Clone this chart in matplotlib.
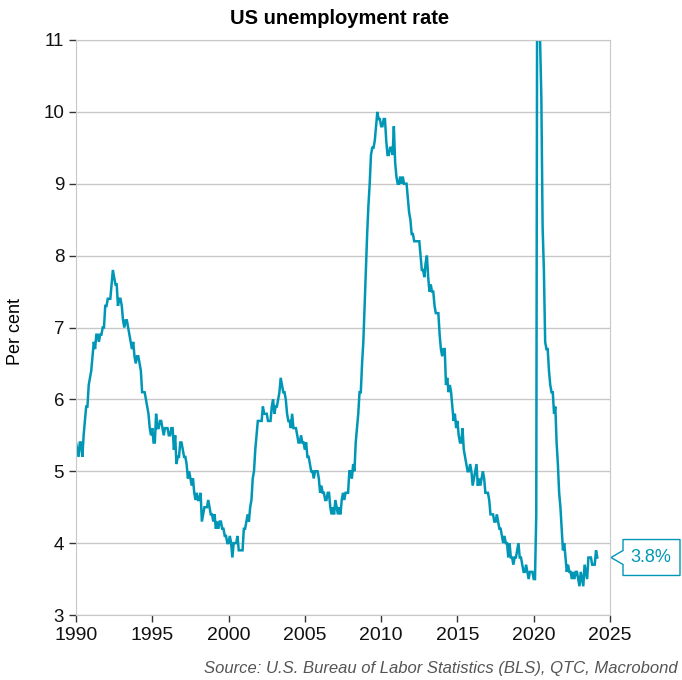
import numpy as np
import matplotlib
matplotlib.use("Agg")
import matplotlib.pyplot as plt
from matplotlib.patches import Polygon

plt.rcParams['font.family'] = ['Liberation Sans', 'DejaVu Sans']

# monthly unemployment rate, per cent, Jan 1990 onwards (one row per year)
rate_rows = [
    [5.4, 5.3, 5.2, 5.4, 5.4, 5.2, 5.5, 5.7, 5.9, 5.9, 6.2, 6.3],  # 1990
    [6.4, 6.6, 6.8, 6.7, 6.9, 6.9, 6.8, 6.9, 6.9, 7.0, 7.0, 7.3],
    [7.3, 7.4, 7.4, 7.4, 7.6, 7.8, 7.7, 7.6, 7.6, 7.3, 7.4, 7.4],
    [7.3, 7.1, 7.0, 7.1, 7.1, 7.0, 6.9, 6.8, 6.7, 6.8, 6.6, 6.5],
    [6.6, 6.6, 6.5, 6.4, 6.1, 6.1, 6.1, 6.0, 5.9, 5.8, 5.6, 5.5],
    [5.6, 5.4, 5.4, 5.8, 5.6, 5.6, 5.7, 5.7, 5.6, 5.5, 5.6, 5.6],  # 1995
    [5.6, 5.5, 5.5, 5.6, 5.6, 5.3, 5.5, 5.1, 5.2, 5.2, 5.4, 5.4],
    [5.3, 5.2, 5.2, 5.1, 4.9, 5.0, 4.9, 4.8, 4.9, 4.7, 4.6, 4.7],
    [4.6, 4.6, 4.7, 4.3, 4.4, 4.5, 4.5, 4.5, 4.6, 4.5, 4.4, 4.4],
    [4.3, 4.4, 4.2, 4.3, 4.2, 4.3, 4.3, 4.2, 4.2, 4.1, 4.1, 4.0],
    [4.0, 4.1, 4.0, 3.8, 4.0, 4.0, 4.0, 4.1, 3.9, 3.9, 3.9, 3.9],  # 2000
    [4.2, 4.2, 4.3, 4.4, 4.3, 4.5, 4.6, 4.9, 5.0, 5.3, 5.5, 5.7],
    [5.7, 5.7, 5.7, 5.9, 5.8, 5.8, 5.8, 5.7, 5.7, 5.7, 5.9, 6.0],
    [5.8, 5.9, 5.9, 6.0, 6.1, 6.3, 6.2, 6.1, 6.1, 6.0, 5.8, 5.7],
    [5.7, 5.6, 5.8, 5.6, 5.6, 5.6, 5.5, 5.4, 5.4, 5.5, 5.4, 5.4],
    [5.3, 5.4, 5.2, 5.2, 5.1, 5.0, 5.0, 4.9, 5.0, 5.0, 5.0, 4.9],  # 2005
    [4.7, 4.8, 4.7, 4.7, 4.6, 4.6, 4.7, 4.7, 4.5, 4.4, 4.5, 4.4],
    [4.6, 4.5, 4.4, 4.5, 4.4, 4.6, 4.7, 4.6, 4.7, 4.7, 4.7, 5.0],
    [5.0, 4.9, 5.1, 5.0, 5.4, 5.6, 5.8, 6.1, 6.1, 6.5, 6.8, 7.3],
    [7.8, 8.3, 8.7, 9.0, 9.4, 9.5, 9.5, 9.6, 9.8, 10.0, 9.9, 9.9],
    [9.8, 9.8, 9.9, 9.9, 9.6, 9.4, 9.4, 9.5, 9.5, 9.4, 9.8, 9.3],  # 2010
    [9.1, 9.0, 9.0, 9.1, 9.0, 9.1, 9.0, 9.0, 9.0, 8.8, 8.6, 8.5],
    [8.3, 8.3, 8.2, 8.2, 8.2, 8.2, 8.2, 8.0, 7.8, 7.8, 7.7, 7.9],
    [8.0, 7.7, 7.5, 7.6, 7.5, 7.5, 7.3, 7.2, 7.2, 7.2, 6.9, 6.7],
    [6.6, 6.7, 6.7, 6.2, 6.3, 6.1, 6.2, 6.1, 5.9, 5.7, 5.8, 5.6],
    [5.7, 5.5, 5.4, 5.4, 5.6, 5.3, 5.2, 5.1, 5.0, 5.0, 5.1, 5.0],  # 2015
    [4.8, 4.9, 5.0, 5.1, 4.8, 4.9, 4.8, 4.9, 5.0, 4.9, 4.7, 4.7],
    [4.7, 4.6, 4.4, 4.4, 4.4, 4.3, 4.3, 4.4, 4.3, 4.2, 4.2, 4.1],
    [4.0, 4.1, 4.0, 4.0, 3.8, 4.0, 3.8, 3.8, 3.7, 3.8, 3.8, 3.9],
    [4.0, 3.8, 3.8, 3.7, 3.6, 3.6, 3.7, 3.6, 3.5, 3.6, 3.6, 3.6],
    [3.5, 3.5, 4.4, 14.8, 13.2, 11.0, 10.2, 8.4, 7.8, 6.8, 6.7, 6.7],  # 2020
    [6.4, 6.2, 6.1, 6.1, 5.8, 5.9, 5.4, 5.1, 4.7, 4.5, 4.2, 3.9],
    [4.0, 3.8, 3.6, 3.7, 3.6, 3.6, 3.5, 3.6, 3.5, 3.6, 3.6, 3.5],
    [3.4, 3.6, 3.5, 3.4, 3.7, 3.6, 3.5, 3.8, 3.8, 3.8, 3.7, 3.7],
    [3.7, 3.9, 3.8],  # 2024
]
start_year = 1990
latest_label = "3.8%"

rate = np.concatenate([np.array(r) for r in rate_rows])
dates = start_year + np.arange(len(rate)) / 12.0

teal = '#0097b7'
grid_col = '#c8c8c8'

fig = plt.figure(figsize=(6.82, 6.80), dpi=100)
ax = fig.add_axes([76 / 682, 1 - 615 / 680, 534 / 682, 575 / 680])

ax.plot(dates, rate, color=teal, lw=1.8, solid_joinstyle='miter')

ax.set_xlim(1990, 2025)
ax.set_ylim(3, 11)
ax.set_xticks(np.arange(1990, 2026, 5))
ax.set_yticks(np.arange(3, 12, 1))
ax.yaxis.grid(True, color=grid_col, lw=1)
ax.set_axisbelow(True)
for s in ['left', 'right', 'top', 'bottom']:
    ax.spines[s].set_color(grid_col)
ax.tick_params(axis='both', direction='out', length=5, color='#333333',
               labelcolor='#111111', width=1)
ax.tick_params(axis='x', pad=4, labelsize=14)
ax.tick_params(axis='y', labelsize=13.5)

fig.text(16 / 682, 1 - 331 / 680, 'Per cent', rotation=90, ha='center',
         va='center', fontsize=13)
fig.text(340 / 682, 1 - 18 / 680, 'US unemployment rate', ha='center', va='center',
         fontsize=14.5, fontweight='bold')
fig.text(678 / 682, 1 - 668 / 680,
         'Source: U.S. Bureau of Labor Statistics (BLS), QTC, Macrobond',
         ha='right', va='center', fontsize=12, style='italic', color='#555555')

# callout with latest value
last = rate[-1]
tr = ax.get_yaxis_transform()
px = 1 / 534.0
pu = 1 / 72.0
x0 = 1 + 1 * px
x1 = 1 + 13 * px
x2 = 1 + 70 * px
pts = [(x0, last), (x1, last + 7 * pu), (x1, last + 18 * pu), (x2, last + 18 * pu),
       (x2, last - 18 * pu), (x1, last - 18 * pu), (x1, last - 7 * pu)]
callout = Polygon(pts, closed=True, transform=tr, facecolor='white',
                  edgecolor=teal, lw=1, clip_on=False)
ax.add_patch(callout)
ax.text(1 + 41 * px, last, latest_label, transform=tr, ha='center', va='center',
        color=teal, fontsize=13, clip_on=False)

fig.savefig('out.png', dpi=100)
